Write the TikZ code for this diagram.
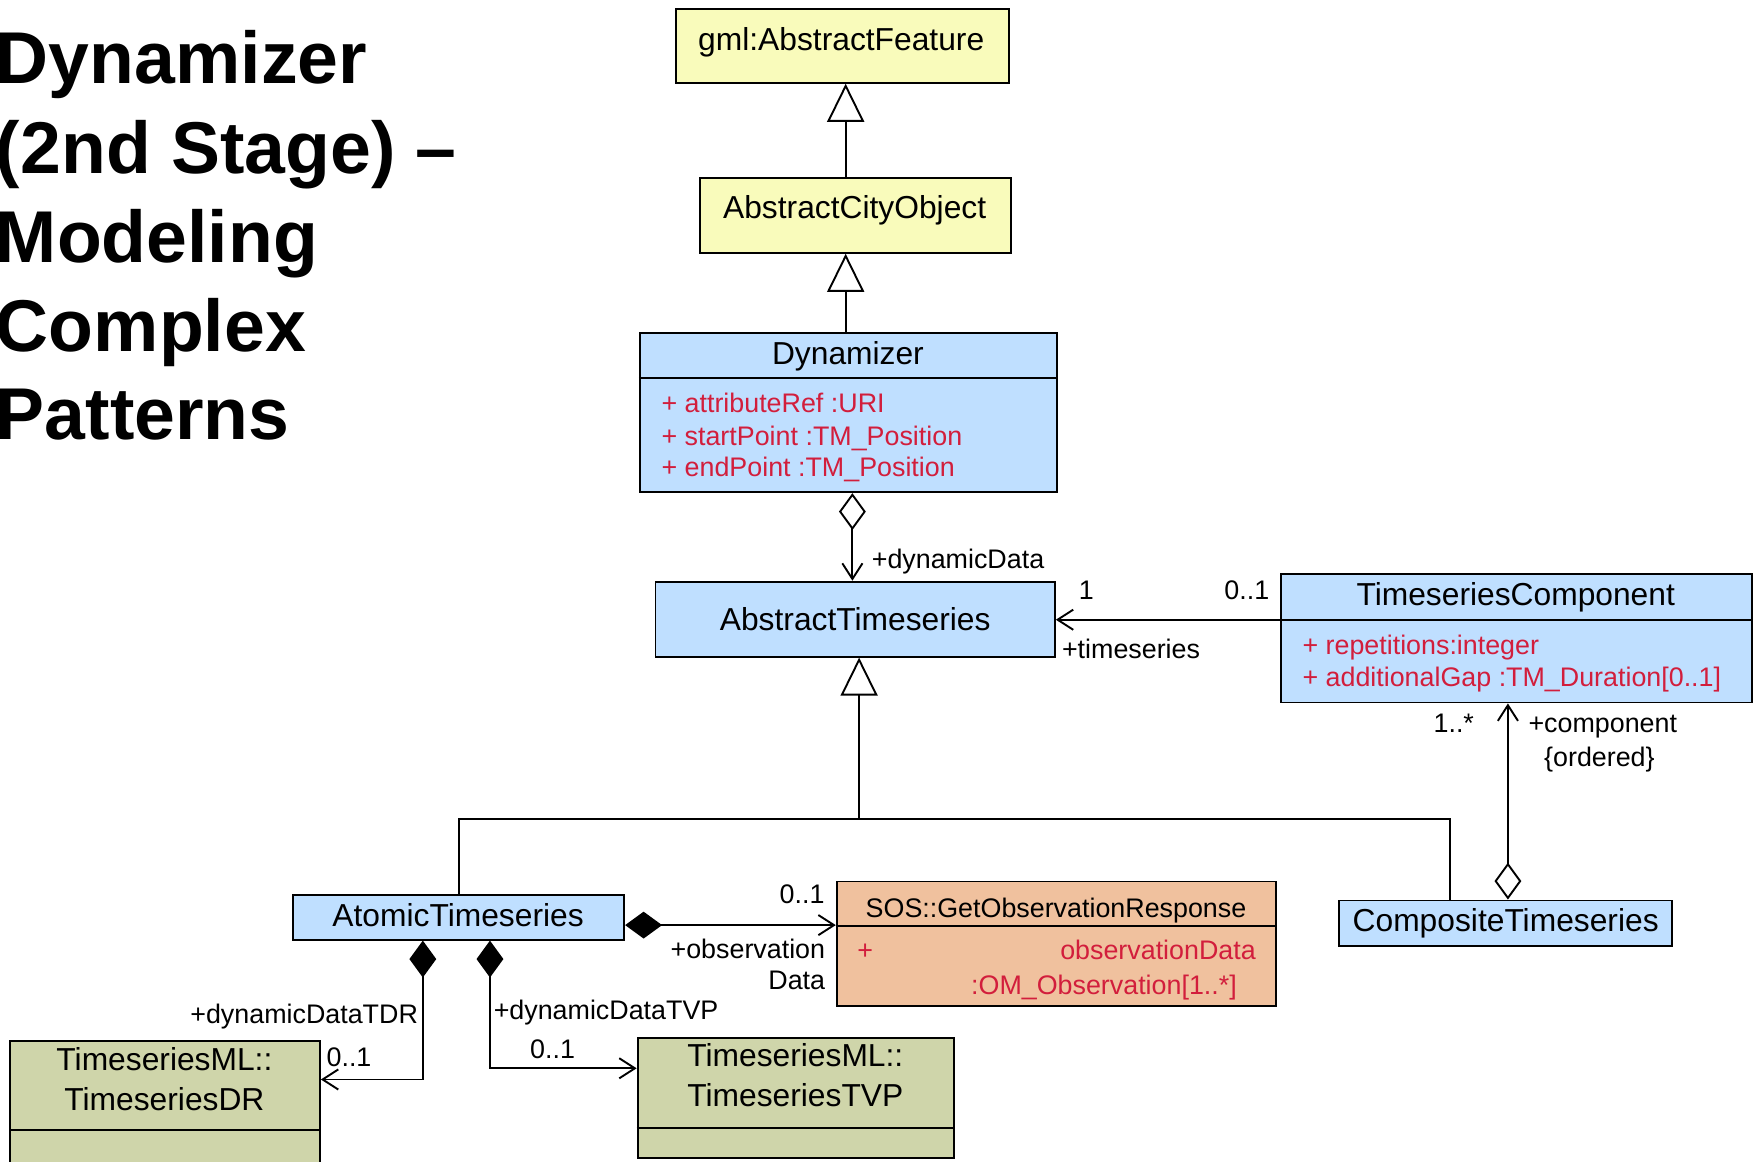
\documentclass[tikz,border=0pt]{standalone}
\usepackage{fontspec}
\setmainfont{Liberation Sans}
\usetikzlibrary{arrows.meta,fit}
\definecolor{clsyellow}{RGB}{249,251,187}
\definecolor{clsblue}{RGB}{191,223,255}
\definecolor{clspeach}{RGB}{240,193,158}
\definecolor{clsolive}{RGB}{207,213,170}
\definecolor{attrred}{RGB}{210,30,60}

\begin{document}
\begin{tikzpicture}[x=0.5pt,y=-0.5pt,
  box/.style={draw=black, line width=0.85pt, inner sep=0pt},
  cname/.style={font=\fontsize{14.2}{17}\selectfont, inner sep=0pt, anchor=base},
  attr/.style={font=\fontsize{12}{14}\selectfont, text=attrred, inner sep=0pt},
  lbl/.style={font=\fontsize{12}{14}\selectfont, inner sep=0pt},
  heading/.style={font=\fontsize{32.8}{40}\selectfont\bfseries, inner sep=0pt, anchor=base west},
  conn/.style={line width=0.85pt},
  gen/.style={conn, -{Triangle[open,length=17pt,width=16.5pt]}},
  assoc/.style={conn, -{Straight Barb[length=7pt,width=9pt]}},
  aggr/.style={conn, {Diamond[open,length=16.5pt,width=12pt]}-{Straight Barb[length=7pt,width=9pt]}},
  comp/.style={conn, {Diamond[length=16.5pt,width=12pt]}-{Straight Barb[length=7pt,width=9pt]}},
]
\useasboundingbox (0,0) rectangle (1568,1038);

% slide heading
\node[heading] (h1) at (-4,74.5) {Dynamizer};
\node[heading] (h2) at (-4,155) {(2nd Stage) –};
\node[heading] (h3) at (-4,235) {Modeling};
\node[heading] (h4) at (-4,314.5) {Complex};
\node[heading] (h5) at (-4,393) {Patterns};

% class boxes
\node[box, fill=clsyellow, fit={(604,8) (902,74)}] (gml) {};
\node[cname] (gmlT) at (752,45) {gml:AbstractFeature};

\node[box, fill=clsyellow, fit={(626,159) (904,226)}] (aco) {};
\node[cname] (acoT) at (764,195) {AbstractCityObject};

\node[box, fill=clsblue, fit={(572,298) (945,440)}] (dyn) {};
\draw[line width=0.85pt] (dyn.west |- 0,338) -- (dyn.east |- 0,338);
\node[cname] (dynT) at (758,326) {Dynamizer};
\node[attr, anchor=base west] (dynA1) at (591,369) {+ attributeRef :URI};
\node[attr, anchor=base west] (dynA2) at (591,398) {+ startPoint :TM\_Position};
\node[attr, anchor=base west] (dynA3) at (591,426) {+ endPoint :TM\_Position};

\node[box, fill=clsblue, fit={(586,520) (943,587)}] (ats) {};
\node[cname] (atsT) at (764.5,564) {AbstractTimeseries};

\node[box, fill=clsblue, fit={(1145,513) (1566,628)}] (tc) {};
\draw[line width=0.85pt] (tc.west |- 0,554) -- (tc.east |- 0,554);
\node[cname] (tcT) at (1355,541) {TimeseriesComponent};
\node[attr, anchor=base west] (tcA1) at (1164,585.5) {+ repetitions:integer};
\node[attr, anchor=base west] (tcA2) at (1164,614) {+ additionalGap :TM\_Duration[0..1]};

\node[box, fill=clsblue, fit={(262,800) (558,840)}] (at) {};
\node[cname] (atT) at (409.5,828) {AtomicTimeseries};

\node[box, fill=clsblue, fit={(1197,805) (1495,846)}] (ct) {};
\node[cname] (ctT) at (1346,833) {CompositeTimeseries};

\node[box, fill=clspeach, fit={(748,788) (1141,899)}] (sos) {};
\draw[line width=0.85pt] (sos.west |- 0,828) -- (sos.east |- 0,828);
\node[lbl, anchor=base] (sosT) at (944,820) {SOS::GetObservationResponse};
\node[attr, anchor=base west] (sosA0) at (766,858) {+};
\node[attr, anchor=base east] (sosA1) at (1123,858) {observationData};
\node[attr, anchor=base east] (sosA2) at (1106,889) {:OM\_Observation[1..*]};

\node[box, fill=clsolive, fit={(9,931) (286,1060)}] (dr) {};
\draw[line width=0.85pt] (dr.west |- 0,1010) -- (dr.east |- 0,1010);
\node[cname] (drT1) at (147,957) {TimeseriesML::};
\node[cname] (drT2) at (147,993) {TimeseriesDR};

\node[box, fill=clsolive, fit={(570,928) (853,1035)}] (tvp) {};
\draw[line width=0.85pt] (tvp.west |- 0,1008) -- (tvp.east |- 0,1008);
\node[cname] (tvpT1) at (711,953) {TimeseriesML::};
\node[cname] (tvpT2) at (711,989) {TimeseriesTVP};

% generalisations
\draw[gen] (aco.north -| 756,0) -- (gml.south -| 756,0);
\draw[gen] (dyn.north -| 756,0) -- (aco.south -| 756,0);
\coordinate (gj) at (768,732);
\draw[gen] (at.north) |- (gj) -- (gj |- ats.south);
\draw[conn] (ct.north -| 1296,0) |- (gj);

% associations
\draw[aggr] (dyn.south -| 762,0) -- (ats.north -| 762,0);
\node[lbl, anchor=base west] (lDyn) at (779,508) {+dynamicData};

\draw[assoc] (tc.west |- 0,554) -- (ats.east |- 0,554);
\node[lbl, anchor=base west] (lOne) at (964,536) {1};
\node[lbl, anchor=base east] (lZeroOne) at (1135,536) {0..1};
\node[lbl, anchor=base west] (lTs) at (949,589) {+timeseries};

\draw[aggr] (ct.north -| 1348,0) -- (tc.south -| 1348,0);
\node[lbl, anchor=base east] (lMany) at (1318,655) {1..*};
\node[lbl, anchor=base west] (lComp) at (1366,655) {+component};
\node[lbl, anchor=base west] (lOrd) at (1380,685) {\{ordered\}};

\draw[comp] (at.east |- 0,827) -- (sos.west |- 0,827);
\node[lbl, anchor=base] (lSos) at (717,808) {0..1};
\node[lbl, anchor=base east] (lObs1) at (738,857) {+observation};
\node[lbl, anchor=base east] (lObs2) at (738,885) {Data};

\draw[comp] (at.south -| 378,0) |- (dr.east |- 0,965);
\node[lbl, anchor=base east] (lTdr) at (374,915) {+dynamicDataTDR};
\node[lbl, anchor=base] (lDr) at (312,953) {0..1};

\draw[comp] (at.south -| 438,0) |- (tvp.west |- 0,955);
\node[lbl, anchor=base west] (lTvp) at (441,911) {+dynamicDataTVP};
\node[lbl, anchor=base] (lTvpM) at (494,946) {0..1};
\end{tikzpicture}
\end{document}
